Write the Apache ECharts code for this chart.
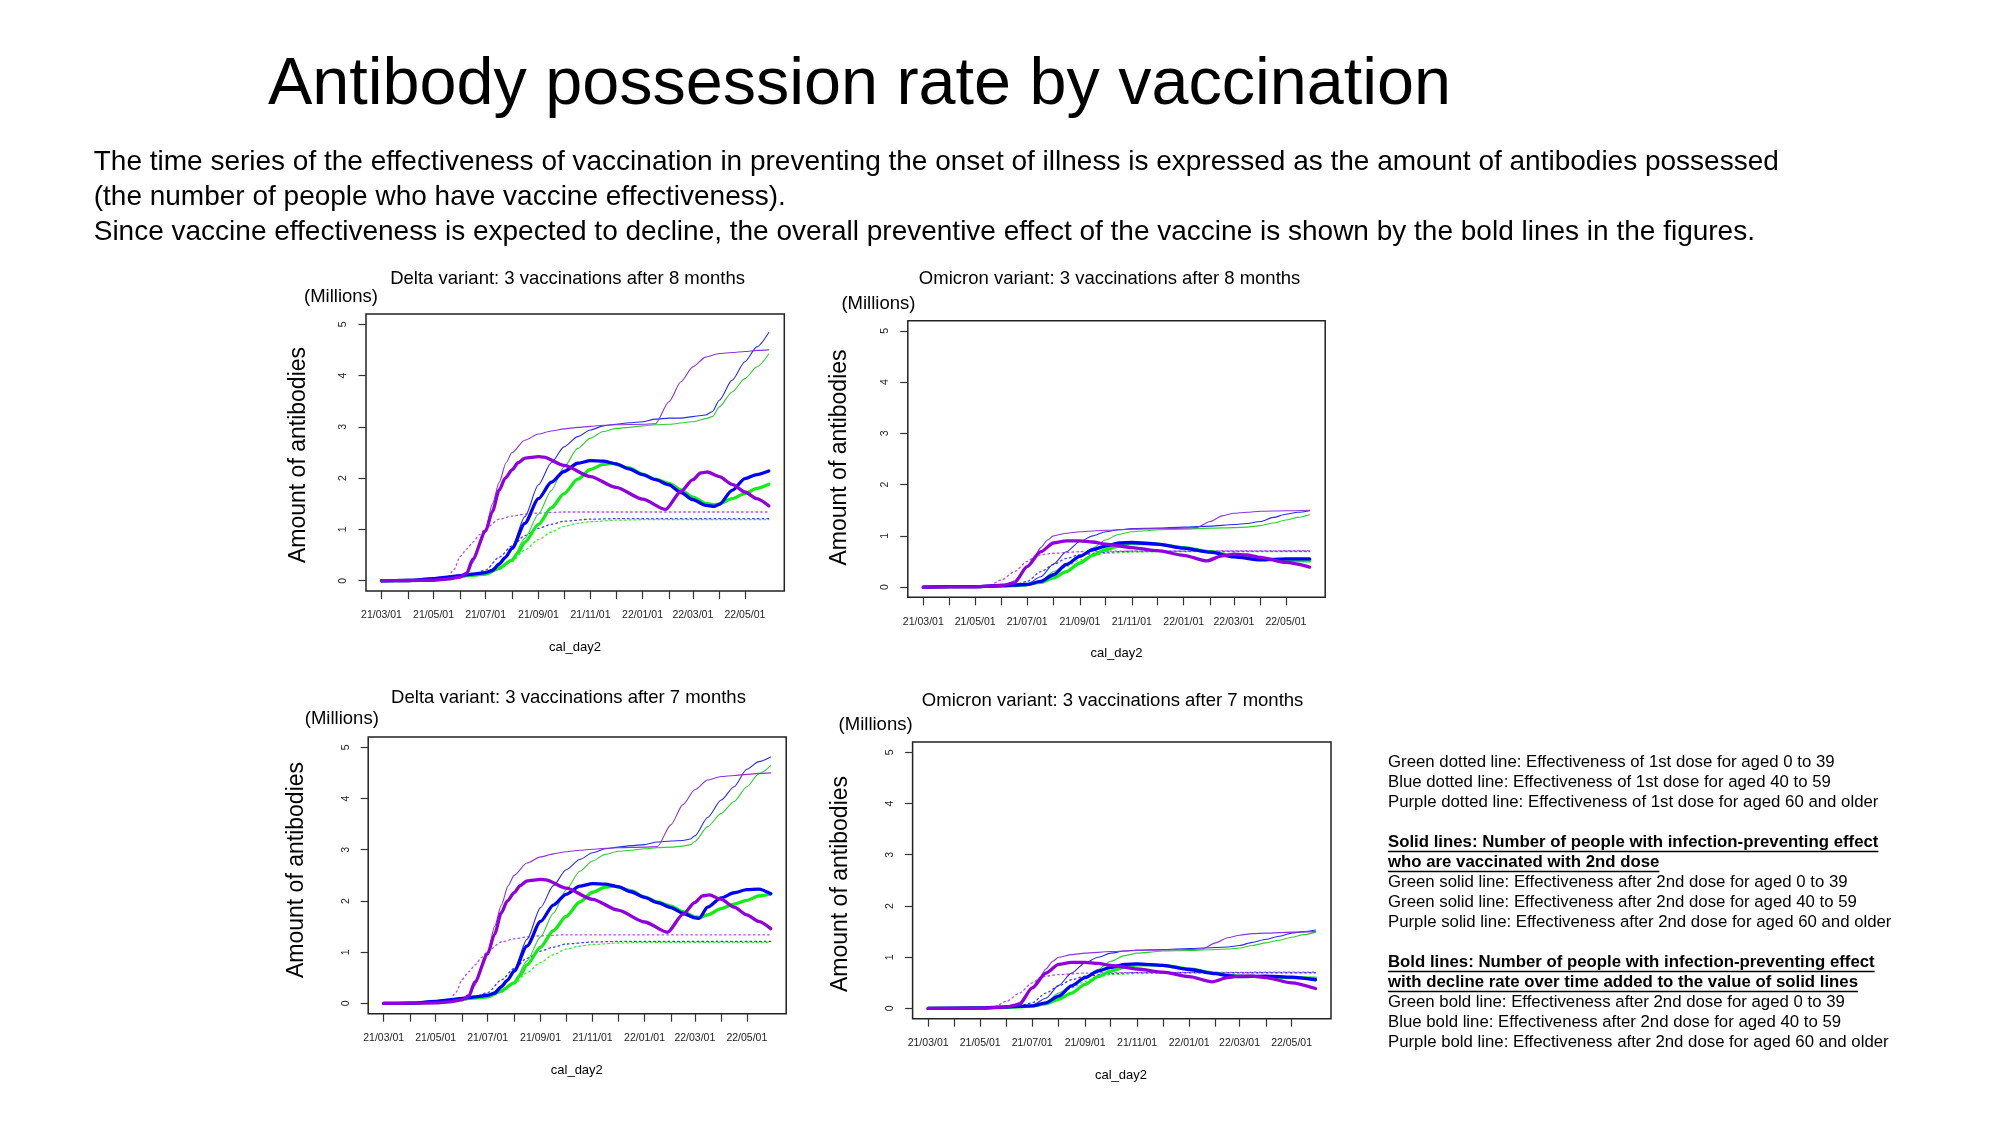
<!DOCTYPE html>
<html>
<head>
<meta charset="utf-8">
<script src="https://cdn.jsdelivr.net/npm/echarts@6/dist/echarts.min.js"></script>
<style>
html,body{margin:0;padding:0;background:#fff;}
#c{width:2000px;height:1125px;}
</style>
</head>
<body>
<div id="c"></div>
<script>
// ---------- DATA (x = days since 2021-03-01, y = millions) ----------
const startDate = '2021-03-01';
const monthTickDates = ['2021-03-01','2021-04-01','2021-05-01','2021-06-01','2021-07-01','2021-08-01','2021-09-01','2021-10-01','2021-11-01','2021-12-01','2022-01-01','2022-02-01','2022-03-01','2022-04-01','2022-05-01'];
const xTickLabels = ['21/03/01','21/05/01','21/07/01','21/09/01','21/11/01','22/01/01','22/03/01','22/05/01'];
const yTickValues = [0,1,2,3,4,5];

const chartTitles = [
  'Delta variant: 3 vaccinations after 8 months',
  'Omicron variant: 3 vaccinations after 8 months',
  'Delta variant: 3 vaccinations after 7 months',
  'Omicron variant: 3 vaccinations after 7 months'
];

// Delta, 8 months
const delta8GreenDot = [[0,0],[31,0.005],[61,0.02],[77,0.04],[92,0.06],[107,0.09],[122,0.12],[138,0.22],[153,0.38],[168,0.6],[184,0.8],[199,0.95],[214,1.06],[230,1.12],[245,1.15],[275,1.18],[306,1.19],[454,1.19]];
const delta8BlueDot = [[0,0],[31,0.005],[61,0.03],[77,0.06],[92,0.09],[107,0.13],[122,0.21],[138,0.46],[153,0.68],[168,0.88],[184,1.02],[199,1.1],[214,1.16],[245,1.2],[275,1.21],[454,1.21]];
const delta8PurpleDot = [[0,0],[31,0.005],[61,0.02],[77,0.06],[85,0.22],[92,0.47],[100,0.62],[107,0.75],[115,0.9],[122,1.02],[138,1.2],[153,1.26],[168,1.3],[184,1.32],[214,1.34],[454,1.34]];
const delta8GreenThin = [[0,0],[31,0.005],[61,0.03],[77,0.05],[92,0.08],[107,0.1],[122,0.12],[138,0.22],[153,0.41],[168,0.83],[184,1.3],[199,1.76],[214,2.22],[230,2.58],[245,2.78],[260,2.91],[275,2.97],[290,2.99],[306,3.02],[321,3.04],[337,3.05],[365,3.1],[380,3.16],[388,3.2],[396,3.39],[411,3.68],[426,3.94],[440,4.17],[454,4.42]];
const delta8BlueThin = [[0,0],[31,0.005],[61,0.03],[77,0.06],[92,0.1],[107,0.13],[122,0.16],[138,0.3],[146,0.45],[153,0.66],[168,1.25],[184,1.87],[199,2.3],[214,2.61],[230,2.81],[245,2.94],[260,3.02],[275,3.05],[290,3.08],[306,3.1],[321,3.15],[337,3.17],[351,3.17],[365,3.2],[380,3.23],[388,3.3],[396,3.52],[411,3.91],[426,4.27],[440,4.56],[454,4.84]];
const delta8PurpleThin = [[0,0],[31,0.005],[61,0.01],[77,0.03],[92,0.07],[100,0.12],[107,0.35],[115,0.7],[122,1.0],[130,1.5],[138,1.92],[146,2.3],[153,2.5],[168,2.74],[184,2.86],[199,2.92],[214,2.96],[230,2.99],[245,3.01],[260,3.03],[275,3.04],[306,3.05],[321,3.06],[337,3.49],[351,3.88],[365,4.17],[380,4.36],[396,4.43],[411,4.45],[426,4.47],[440,4.49],[454,4.5]];
const delta8GreenBold = [[0,0],[31,0.005],[61,0.03],[77,0.06],[92,0.09],[107,0.11],[122,0.13],[138,0.25],[153,0.4],[160,0.55],[168,0.75],[184,1.1],[199,1.42],[214,1.7],[230,1.98],[245,2.17],[260,2.27],[270,2.29],[290,2.2],[306,2.08],[321,1.98],[337,1.9],[351,1.77],[365,1.63],[380,1.51],[390,1.48],[396,1.5],[411,1.6],[426,1.7],[440,1.8],[454,1.88]];
const delta8BlueBold = [[0,0],[31,0.005],[61,0.04],[77,0.07],[92,0.1],[107,0.13],[122,0.16],[130,0.2],[138,0.33],[145,0.45],[153,0.63],[168,1.12],[184,1.6],[199,1.92],[214,2.13],[230,2.29],[245,2.34],[260,2.33],[275,2.28],[290,2.18],[306,2.07],[321,1.97],[337,1.87],[351,1.72],[365,1.58],[380,1.47],[390,1.45],[396,1.49],[411,1.76],[426,1.99],[440,2.07],[454,2.14]];
const delta8PurpleBold = [[0,0],[31,0.005],[61,0.01],[77,0.03],[92,0.07],[100,0.15],[107,0.42],[122,0.97],[130,1.35],[138,1.77],[145,2.0],[153,2.16],[160,2.3],[168,2.39],[184,2.42],[190,2.41],[214,2.25],[245,2.03],[275,1.82],[306,1.59],[333,1.39],[351,1.74],[365,1.97],[374,2.1],[382,2.12],[396,2.03],[411,1.88],[426,1.73],[440,1.6],[454,1.46]];

// Delta, 7 months
const delta7GreenDot = [[0,0],[31,0.005],[61,0.02],[77,0.04],[92,0.06],[107,0.09],[122,0.12],[138,0.22],[153,0.38],[168,0.6],[184,0.8],[199,0.95],[214,1.06],[230,1.12],[245,1.15],[275,1.18],[306,1.19],[454,1.19]];
const delta7BlueDot = [[0,0],[31,0.005],[61,0.03],[77,0.06],[92,0.09],[107,0.13],[122,0.21],[138,0.46],[153,0.68],[168,0.88],[184,1.02],[199,1.1],[214,1.16],[245,1.2],[275,1.21],[454,1.21]];
const delta7PurpleDot = [[0,0],[31,0.005],[61,0.02],[77,0.06],[85,0.22],[92,0.47],[100,0.62],[107,0.75],[115,0.9],[122,1.02],[138,1.2],[153,1.26],[168,1.3],[184,1.32],[214,1.34],[454,1.34]];
const delta7GreenThin = [[0,0],[31,0.005],[61,0.03],[77,0.05],[92,0.08],[107,0.1],[122,0.12],[138,0.22],[153,0.41],[168,0.83],[184,1.3],[199,1.76],[214,2.22],[230,2.58],[245,2.78],[260,2.91],[275,2.97],[290,2.99],[306,3.02],[321,3.04],[337,3.05],[351,3.07],[360,3.1],[365,3.16],[380,3.45],[396,3.71],[411,3.94],[426,4.23],[440,4.48],[454,4.64]];
const delta7BlueThin = [[0,0],[31,0.005],[61,0.03],[77,0.06],[92,0.1],[107,0.13],[122,0.16],[138,0.3],[146,0.45],[153,0.66],[168,1.25],[184,1.87],[199,2.3],[214,2.61],[230,2.81],[245,2.94],[260,3.02],[275,3.05],[290,3.08],[306,3.1],[321,3.15],[337,3.17],[351,3.18],[360,3.21],[365,3.27],[380,3.63],[396,3.97],[411,4.23],[426,4.57],[440,4.72],[454,4.81]];
const delta7PurpleThin = [[0,0],[31,0.005],[61,0.01],[77,0.03],[92,0.07],[100,0.12],[107,0.35],[115,0.7],[122,1.0],[130,1.5],[138,1.92],[146,2.3],[153,2.5],[168,2.74],[184,2.86],[199,2.92],[214,2.96],[230,2.99],[245,3.01],[260,3.03],[275,3.04],[306,3.05],[321,3.06],[337,3.49],[351,3.88],[365,4.17],[380,4.36],[396,4.43],[411,4.45],[426,4.47],[440,4.49],[454,4.5]];
const delta7GreenBold = [[0,0],[31,0.005],[61,0.03],[77,0.06],[92,0.09],[107,0.11],[122,0.13],[138,0.25],[153,0.4],[160,0.55],[168,0.75],[184,1.1],[199,1.42],[214,1.7],[230,1.98],[245,2.17],[260,2.27],[270,2.29],[290,2.2],[306,2.08],[321,1.98],[337,1.9],[351,1.79],[365,1.69],[372,1.68],[380,1.73],[396,1.85],[411,1.94],[426,2.01],[440,2.1],[454,2.14]];
const delta7BlueBold = [[0,0],[31,0.005],[61,0.04],[77,0.07],[92,0.1],[107,0.13],[122,0.16],[130,0.2],[138,0.33],[145,0.45],[153,0.63],[168,1.12],[184,1.6],[199,1.92],[214,2.13],[230,2.29],[245,2.34],[260,2.33],[275,2.28],[290,2.18],[306,2.07],[321,1.97],[337,1.87],[351,1.76],[365,1.67],[370,1.66],[380,1.88],[396,2.06],[411,2.16],[426,2.22],[440,2.23],[454,2.14]];
const delta7PurpleBold = [[0,0],[31,0.005],[61,0.01],[77,0.03],[92,0.07],[100,0.15],[107,0.42],[122,0.97],[130,1.35],[138,1.77],[145,2.0],[153,2.16],[160,2.3],[168,2.39],[184,2.42],[190,2.41],[214,2.25],[245,2.03],[275,1.82],[306,1.59],[333,1.39],[351,1.74],[365,1.97],[374,2.1],[382,2.12],[396,2.03],[411,1.88],[426,1.73],[440,1.6],[454,1.46]];

// Omicron, 8 months
const omi8GreenDot = [[0,0],[61,0.005],[92,0.01],[107,0.02],[122,0.05],[138,0.12],[153,0.24],[168,0.4],[184,0.53],[199,0.61],[214,0.66],[245,0.68],[275,0.69],[454,0.69]];
const omi8BlueDot = [[0,0],[61,0.005],[92,0.02],[107,0.05],[122,0.11],[138,0.3],[153,0.44],[168,0.56],[184,0.63],[214,0.68],[245,0.7],[454,0.7]];
const omi8PurpleDot = [[0,0],[61,0.005],[77,0.03],[92,0.14],[107,0.3],[122,0.5],[133,0.62],[153,0.66],[184,0.69],[214,0.7],[454,0.71]];
const omi8GreenThin = [[0,0],[61,0.01],[92,0.02],[107,0.03],[122,0.05],[138,0.12],[153,0.3],[168,0.45],[184,0.6],[199,0.76],[214,0.92],[230,1.03],[245,1.08],[260,1.1],[275,1.12],[306,1.13],[337,1.15],[365,1.16],[380,1.17],[396,1.2],[411,1.25],[426,1.31],[440,1.36],[454,1.41]];
const omi8BlueThin = [[0,0],[61,0.01],[92,0.02],[107,0.03],[122,0.06],[138,0.2],[153,0.45],[168,0.69],[184,0.89],[199,1.0],[214,1.08],[230,1.12],[245,1.14],[275,1.15],[306,1.17],[337,1.19],[365,1.22],[380,1.24],[396,1.28],[411,1.36],[426,1.42],[440,1.46],[454,1.49]];
const omi8PurpleThin = [[0,0],[61,0.005],[92,0.03],[100,0.06],[107,0.12],[115,0.25],[122,0.4],[130,0.58],[138,0.77],[146,0.92],[153,1.0],[168,1.05],[184,1.08],[214,1.11],[245,1.13],[275,1.14],[306,1.15],[321,1.16],[337,1.28],[351,1.39],[365,1.44],[380,1.46],[396,1.48],[426,1.49],[454,1.5]];
const omi8GreenBold = [[0,0],[61,0.01],[92,0.02],[107,0.03],[122,0.05],[138,0.09],[153,0.18],[168,0.3],[184,0.47],[199,0.62],[214,0.73],[230,0.8],[245,0.85],[260,0.85],[275,0.84],[306,0.77],[337,0.69],[365,0.61],[396,0.55],[426,0.52],[454,0.51]];
const omi8BlueBold = [[0,0],[61,0.01],[92,0.03],[107,0.04],[122,0.05],[138,0.11],[153,0.24],[168,0.44],[184,0.6],[199,0.73],[214,0.8],[230,0.86],[245,0.87],[275,0.84],[306,0.76],[337,0.68],[365,0.59],[396,0.53],[426,0.55],[454,0.55]];
const omi8PurpleBold = [[0,0],[61,0.005],[92,0.03],[107,0.08],[122,0.4],[138,0.69],[153,0.86],[168,0.9],[184,0.9],[199,0.88],[214,0.84],[245,0.77],[275,0.71],[306,0.62],[333,0.51],[351,0.61],[365,0.64],[380,0.63],[396,0.58],[426,0.48],[454,0.39]];

// Omicron, 7 months
const omi7GreenDot = [[0,0],[61,0.005],[92,0.01],[107,0.02],[122,0.05],[138,0.12],[153,0.24],[168,0.4],[184,0.53],[199,0.61],[214,0.66],[245,0.68],[275,0.69],[454,0.69]];
const omi7BlueDot = [[0,0],[61,0.005],[92,0.02],[107,0.05],[122,0.11],[138,0.3],[153,0.44],[168,0.56],[184,0.63],[214,0.68],[245,0.7],[454,0.7]];
const omi7PurpleDot = [[0,0],[61,0.005],[77,0.03],[92,0.14],[107,0.3],[122,0.5],[133,0.62],[153,0.66],[184,0.69],[214,0.7],[454,0.71]];
const omi7GreenThin = [[0,0],[61,0.01],[92,0.02],[107,0.03],[122,0.05],[138,0.12],[153,0.3],[168,0.45],[184,0.6],[199,0.76],[214,0.92],[230,1.03],[245,1.08],[260,1.1],[275,1.12],[306,1.13],[337,1.15],[351,1.16],[365,1.18],[380,1.23],[396,1.28],[411,1.33],[426,1.39],[440,1.44],[454,1.49]];
const omi7BlueThin = [[0,0],[61,0.01],[92,0.02],[107,0.03],[122,0.06],[138,0.2],[153,0.45],[168,0.69],[184,0.89],[199,1.0],[214,1.08],[230,1.12],[245,1.14],[275,1.15],[306,1.17],[337,1.19],[351,1.2],[365,1.23],[380,1.29],[396,1.35],[411,1.41],[426,1.47],[440,1.5],[454,1.53]];
const omi7PurpleThin = [[0,0],[61,0.005],[92,0.03],[100,0.06],[107,0.12],[115,0.25],[122,0.4],[130,0.58],[138,0.77],[146,0.92],[153,1.0],[168,1.05],[184,1.08],[214,1.11],[245,1.13],[275,1.14],[306,1.15],[321,1.16],[337,1.28],[351,1.38],[365,1.43],[380,1.46],[396,1.47],[426,1.49],[454,1.5]];
const omi7GreenBold = [[0,0],[61,0.01],[92,0.02],[107,0.03],[122,0.05],[138,0.09],[153,0.18],[168,0.3],[184,0.47],[199,0.62],[214,0.73],[230,0.8],[245,0.85],[260,0.85],[275,0.84],[306,0.77],[337,0.69],[351,0.65],[365,0.63],[396,0.62],[426,0.6],[454,0.59]];
const omi7BlueBold = [[0,0],[61,0.01],[92,0.03],[107,0.04],[122,0.05],[138,0.11],[153,0.24],[168,0.44],[184,0.6],[199,0.73],[214,0.8],[230,0.86],[245,0.87],[275,0.84],[306,0.76],[337,0.68],[351,0.64],[365,0.62],[396,0.63],[426,0.61],[454,0.56]];
const omi7PurpleBold = [[0,0],[61,0.005],[92,0.03],[107,0.08],[122,0.4],[138,0.69],[153,0.86],[168,0.9],[184,0.9],[199,0.88],[214,0.84],[245,0.77],[275,0.71],[306,0.62],[333,0.52],[351,0.6],[365,0.63],[380,0.63],[396,0.6],[426,0.5],[454,0.39]];

const mainTitle = 'Antibody possession rate by vaccination';
const subtitleLines = [
  'The time series of the effectiveness of vaccination in preventing the onset of illness is expressed as the amount of antibodies possessed',
  '(the number of people who have vaccine effectiveness).',
  'Since vaccine effectiveness is expected to decline, the overall preventive effect of the vaccine is shown by the bold lines in the figures.'
];
const legendLines = [
  ['Green dotted line: Effectiveness of 1st dose for aged 0 to 39', false],
  ['Blue dotted line: Effectiveness of 1st dose for aged 40 to 59', false],
  ['Purple dotted line: Effectiveness of 1st dose for aged 60 and older', false],
  ['', false],
  ['Solid lines: Number of people with infection-preventing effect', true],
  ['who are vaccinated with 2nd dose', true],
  ['Green solid line: Effectiveness after 2nd dose for aged 0 to 39', false],
  ['Green solid line: Effectiveness after 2nd dose for aged 40 to 59', false],
  ['Purple solid line: Effectiveness after 2nd dose for aged 60 and older', false],
  ['', false],
  ['Bold lines: Number of people with infection-preventing effect', true],
  ['with decline rate over time added to the value of solid lines', true],
  ['Green bold line: Effectiveness after 2nd dose for aged 0 to 39', false],
  ['Blue bold line: Effectiveness after 2nd dose for aged 40 to 59', false],
  ['Purple bold line: Effectiveness after 2nd dose for aged 60 and older', false]
];

// ---------- BUILD ----------
const FONT = '"Liberation Sans", Arial, Helvetica, sans-serif';
const DAY = 86400000;
const t0 = Date.parse(startDate + 'T00:00:00Z');
const dayOf = s => Math.round((Date.parse(s + 'T00:00:00Z') - t0) / DAY);
const monthTickDays = monthTickDates.map(dayOf);
const labelDays = monthTickDays.filter((d, i) => i % 2 === 0);
const labelMap = {};
labelDays.forEach((d, i) => { labelMap[d] = xTickLabels[i]; });

const chartSeries = [
  [delta8GreenDot, delta8BlueDot, delta8PurpleDot, delta8GreenThin, delta8BlueThin, delta8PurpleThin, delta8GreenBold, delta8BlueBold, delta8PurpleBold],
  [omi8GreenDot, omi8BlueDot, omi8PurpleDot, omi8GreenThin, omi8BlueThin, omi8PurpleThin, omi8GreenBold, omi8BlueBold, omi8PurpleBold],
  [delta7GreenDot, delta7BlueDot, delta7PurpleDot, delta7GreenThin, delta7BlueThin, delta7PurpleThin, delta7GreenBold, delta7BlueBold, delta7PurpleBold],
  [omi7GreenDot, omi7BlueDot, omi7PurpleDot, omi7GreenThin, omi7BlueThin, omi7PurpleThin, omi7GreenBold, omi7BlueBold, omi7PurpleBold]
];
const styles = [
  {c:'#33ee33', w:1.3, t:[1.6,3.2]},
  {c:'#3a3aff', w:1.3, t:[1.6,3.2]},
  {c:'#b04ef5', w:1.3, t:[1.6,3.2]},
  {c:'#2ed02e', w:1.1, t:'solid'},
  {c:'#2a2aee', w:1.1, t:'solid'},
  {c:'#8a35dd', w:1.1, t:'solid'},
  {c:'#11ee11', w:3.3, t:'solid'},
  {c:'#0000ff', w:3.3, t:'solid'},
  {c:'#9000dd', w:3.3, t:'solid'}
];

const boxes = [
  {left:366, top:314, width:418.3, height:277},
  {left:907.8, top:320.7, width:417.4, height:276.6},
  {left:368.2, top:737, width:418, height:276.7},
  {left:912.6, top:742, width:418.4, height:276.7}
];
const titlePos = [[567.6,278.5],[1109.6,278.5],[568.5,697.5],[1112.6,700.8]];
const millionsPos = [[304,297],[841.4,303.5],[304.8,718.5],[838.6,724.5]];
const yNamePos = [[298.3,455],[839.6,457.5],[296.2,870],[840.3,884]];
const xNamePos = [[575,647.7],[1116.5,653.3],[576.8,1070.3],[1121,1075.3]];

const grid = [], xAxis = [], yAxis = [], series = [], graphic = [];

function txt(text, x, y, size, o) {
  o = o || {};
  return {
    type:'text', x:x, y:y, rotation:o.rot || 0, silent:true,
    style:{
      text:text, fill:'#000', fontSize:size, fontFamily:FONT, fontWeight:o.bold ? 'bold' : 'normal',
      align:o.align || 'left', textAlign:o.align || 'left',
      verticalAlign:'middle', textVerticalAlign:'middle'
    }
  };
}

boxes.forEach((b, i) => {
  grid.push({left:b.left, top:b.top, width:b.width, height:b.height, show:true,
    borderColor:'#222', borderWidth:1.5, backgroundColor:'transparent', containLabel:false});
  xAxis.push({
    type:'value', gridIndex:i, min:-18.2, max:472.2, position:'bottom',
    axisLine:{show:false, onZero:false}, splitLine:{show:false},
    axisTick:{show:true, inside:false, length:8, customValues:monthTickDays, lineStyle:{color:'#333', width:1.2}},
    axisLabel:{show:true, customValues:labelDays, margin:19, fontSize:10.5, fontFamily:FONT, color:'#222',
      formatter: v => labelMap[Math.round(v)] || ''}
  });
  yAxis.push({
    type:'value', gridIndex:i, min:-0.2, max:5.2, position:'left',
    axisLine:{show:false, onZero:false}, splitLine:{show:false},
    axisTick:{show:true, inside:false, length:7.5, customValues:yTickValues, lineStyle:{color:'#333', width:1.2}},
    axisLabel:{show:true, customValues:yTickValues, rotate:90, margin:17, fontSize:10.5, fontFamily:FONT, color:'#222'}
  });
  chartSeries[i].forEach((d, k) => {
    const s = styles[k];
    series.push({
      type:'line', xAxisIndex:i, yAxisIndex:i, data:d, showSymbol:false, symbol:'none',
      smooth:0.25, smoothMonotone:'x', silent:true, animation:false, z:2 + Math.floor(k / 3),
      lineStyle:{color:s.c, width:s.w, type:s.t, cap:'round', join:'round'}
    });
  });
  graphic.push(txt(chartTitles[i], titlePos[i][0], titlePos[i][1], 18.5, {align:'center'}));
  graphic.push(txt('(Millions)', millionsPos[i][0], millionsPos[i][1], 18.5));
  graphic.push(txt('Amount of antibodies', yNamePos[i][0], yNamePos[i][1], 23, {align:'center', rot:Math.PI/2}));
  graphic.push(txt('cal_day2', xNamePos[i][0], xNamePos[i][1], 13, {align:'center'}));
});

// page texts
graphic.push(txt(mainTitle, 268, 86, 66.5));
subtitleLines.forEach((s, i) => graphic.push(txt(s, 93.7, 162.2 + 35 * i, 28)));

const mctx = document.createElement('canvas').getContext('2d');
const LEG_X = 1388, LEG_B0 = 768.5, LEG_STEP = 20, LEG_FS = 16.8;
legendLines.forEach((l, i) => {
  if (!l[0]) return;
  const base = LEG_B0 + LEG_STEP * i;
  graphic.push(txt(l[0], LEG_X, base - 0.35 * LEG_FS, LEG_FS, {bold:l[1]}));
  if (l[1]) {
    mctx.font = 'bold ' + LEG_FS + 'px ' + FONT;
    const w = mctx.measureText(l[0]).width;
    graphic.push({type:'line', silent:true, shape:{x1:LEG_X, y1:base + 3, x2:LEG_X + w, y2:base + 3},
      style:{stroke:'#000', lineWidth:1.4}});
  }
});

const chart = echarts.init(document.getElementById('c'));
chart.setOption({
  backgroundColor:'#ffffff',
  animation:false,
  grid:grid, xAxis:xAxis, yAxis:yAxis, series:series, graphic:graphic
});
</script>
</body>
</html>
